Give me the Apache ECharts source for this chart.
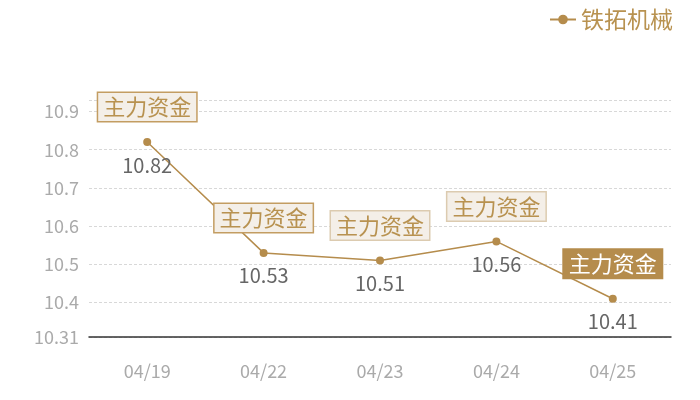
<!DOCTYPE html>
<html>
<head>
<meta charset="utf-8">
<script src="https://cdn.jsdelivr.net/npm/echarts@6/dist/echarts.min.js"></script>
<style>html,body{margin:0;padding:0;background:#fff}#c{width:700px;height:400px}</style>
</head>
<body>
<div id="c"></div>
<script>
const categories = ['04/19', '04/22', '04/23', '04/24', '04/25'];
const prices = [10.82, 10.53, 10.51, 10.56, 10.41];
const seriesName = '铁拓机械';
const tagText = '主力资金';
const yMin = 10.31;
const yMax = 10.93;

const gold = '#b58c4c';
const tagBorders = ['#c39d62', '#c39d62', '#dccbb0', '#dccbb0', null];

const markData = categories.map((c, i) => {
  const last = i === categories.length - 1;
  return {
    coord: [c, prices[i]],
    label: last ? {
      backgroundColor: gold, color: '#fff', borderColor: gold
    } : {
      backgroundColor: '#f4efe8', color: '#b89250', borderColor: tagBorders[i]
    }
  };
});

const chart = echarts.init(document.getElementById('c'));
chart.setOption({
  animation: false,
  textStyle: { fontFamily: '"Noto Sans CJK SC", "Noto Sans", sans-serif' },
  legend: {
    top: 3, right: 22,
    itemWidth: 26, itemHeight: 12, itemGap: 6,
    textStyle: { fontSize: 23, color: '#b89250' },
    data: [seriesName]
  },
  grid: { left: 89, right: 29, top: 100, bottom: 63 },
  xAxis: {
    type: 'category',
    data: categories,
    boundaryGap: true,
    axisLine: { lineStyle: { color: '#333', width: 1.5 } },
    axisTick: { show: false },
    axisLabel: { color: '#aaa', fontSize: 18, margin: 25 }
  },
  yAxis: {
    type: 'value',
    min: yMin, max: yMax,
    axisLine: { show: false },
    axisTick: { show: false },
    axisLabel: { color: '#aaa', fontSize: 18, margin: 10, showMaxLabel: false },
    splitLine: { lineStyle: { color: '#d8d8d8', type: [3, 2] } }
  },
  series: [{
    name: seriesName,
    type: 'line',
    data: prices,
    symbol: 'circle',
    symbolSize: 8,
    itemStyle: { color: gold },
    lineStyle: { color: gold, width: 1.5 },
    label: {
      show: true, position: 'bottom', distance: 9,
      color: '#666', fontSize: 20
    },
    markPoint: {
      symbol: 'rect',
      symbolSize: 0,
      label: {
        show: true,
        formatter: tagText,
        fontSize: 22,
        borderWidth: 1.5,
        padding: [4, 5, 2, 5],
        offset: [0, -35]
      },
      data: markData
    }
  }]
});
</script>
</body>
</html>
